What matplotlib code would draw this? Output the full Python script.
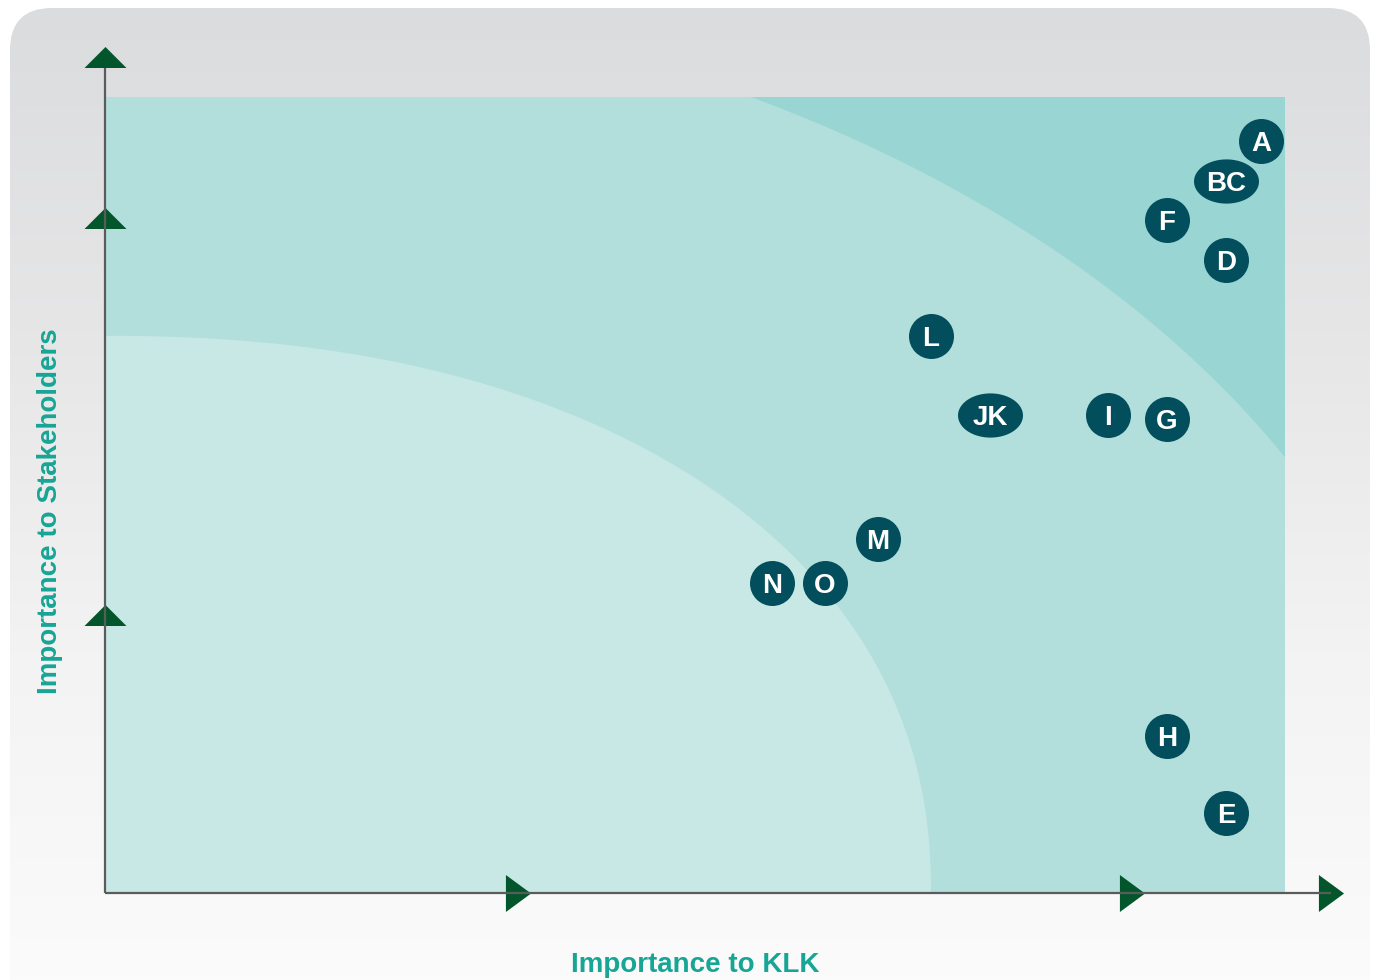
import numpy as np
import matplotlib
matplotlib.use("Agg")
import matplotlib.pyplot as plt
from matplotlib.patches import FancyBboxPatch, Rectangle, Polygon
from matplotlib.path import Path
from matplotlib.colors import LinearSegmentedColormap

# ---------------- data ----------------
labels = ["A", "BC", "F", "D", "L", "JK", "I", "G", "M", "N", "O", "H", "E"]
klk = [9.8, 9.5, 9.0, 9.5, 7.0, 7.5, 8.5, 9.0, 6.55, 5.65, 6.1, 9.0, 9.5]
stakeholders = [9.45, 8.95, 8.45, 7.95, 7.0, 6.0, 6.0, 5.95, 4.45, 3.9, 3.9, 1.97, 1.0]
y_arrow_levels = [10.5, 8.48, 3.49]
x_arrow_levels = [3.5, 8.7, 10.39]
x_title = "Importance to KLK"
y_title = "Importance to Stakeholders"

# zone boundaries (data units)
dark_radius = 11.4
light_radius = 7.0
light_power = 2.2

# ---------------- style ----------------
FONT = "Liberation Sans"
C_LIGHT = "#c8e8e6"
C_MED = "#b2dfdc"
C_DARK = "#98d5d3"
C_DOT = "#024e5c"
C_ARROW = "#03562b"
C_AXIS = "#5a5c5c"
C_TITLE = "#17a595"

W, H = 1378, 980
fig = plt.figure(figsize=(W / 100, H / 100), dpi=100)
fig.patch.set_facecolor("white")

# background rounded panel with vertical gradient
bg = fig.add_axes([0, 0, 1, 1])
bg.set_xlim(0, W)
bg.set_ylim(H, 0)
bg.axis("off")
panel = FancyBboxPatch((10, 8), 1360, 1040, boxstyle="round,pad=0,rounding_size=42",
                       facecolor="none", edgecolor="none")
bg.add_patch(panel)
cmap = LinearSegmentedColormap.from_list("g", ["#dbdcde", "#e6e6e7", "#f3f3f3", "#fbfbfb"])
grad = np.linspace(0, 1, 256).reshape(-1, 1)
im = bg.imshow(grad, cmap=cmap, extent=(10, 1370, H, 8), aspect="auto", origin="upper")
im.set_clip_path(panel)

# main axes
ax = fig.add_axes([105 / W, (H - 893) / H, 1180 / W, 796 / H])
ax.set_xlim(0, 10)
ax.set_ylim(0, 10)
ax.axis("off")

ax.add_patch(Rectangle((0, 0), 10, 10, facecolor=C_MED, edgecolor="none", zorder=1))
t = np.linspace(0, np.pi / 2, 300)
dark = np.column_stack([dark_radius * np.cos(t), dark_radius * np.sin(t)])
dark = np.vstack([dark, [[20, 20]], [[20, 0]]])
ax.add_patch(Polygon(np.vstack([[[dark_radius, 0]], dark[::-1]]), closed=True,
                     facecolor=C_DARK, edgecolor="none", zorder=2))
ct, st = np.cos(t), np.sin(t)
lx = light_radius * np.sign(ct) * np.abs(ct) ** (2 / light_power)
ly = light_radius * np.sign(st) * np.abs(st) ** (2 / light_power)
light = np.vstack([[[0, 0]], np.column_stack([lx, ly])])
ax.add_patch(Polygon(light, closed=True, facecolor=C_LIGHT, edgecolor="none", zorder=3))

# arrow triangles
up_tri = Path([(0, 0.5), (-1, -0.5), (1, -0.5), (0, 0.5)], closed=True)
right_tri = Path([(0.68, 0), (-0.68, 1), (-0.68, -1), (0.68, 0)], closed=True)
ax.scatter([0] * len(y_arrow_levels), y_arrow_levels, marker=up_tri, s=(42 * 0.72) ** 2,
           color=C_ARROW, linewidths=0, clip_on=False, zorder=5)
ax.scatter(x_arrow_levels, [0] * len(x_arrow_levels), marker=right_tri, s=(37 * 0.72) ** 2,
           color=C_ARROW, linewidths=0, clip_on=False, zorder=5)
ax.plot([0, 0], [0, 10.36], color=C_AXIS, lw=1.6, clip_on=False, zorder=6, solid_capstyle="butt")
ax.plot([0, x_arrow_levels[-1]], [0, 0], color=C_AXIS, lw=1.6, clip_on=False, zorder=6,
        solid_capstyle="butt")

# points
t2 = np.linspace(0, 2 * np.pi, 100)
wide_oval = Path(np.column_stack([np.cos(t2), 0.68 * np.sin(t2)]), closed=True)
for lab, x, y in zip(labels, klk, stakeholders):
    if len(lab) > 1:
        ax.scatter([x], [y], marker=wide_oval, s=(65 * 0.72) ** 2, color=C_DOT,
                   linewidths=0, zorder=7, clip_on=False)
    else:
        ax.scatter([x], [y], marker="o", s=(45 * 0.72) ** 2, color=C_DOT,
                   linewidths=0, zorder=7, clip_on=False)
    ax.annotate(lab, (x, y), xytext=(0, -7.2), textcoords="offset points",
                ha="center", va="baseline", color="white", fontsize=20,
                fontweight="bold", family=FONT, zorder=8)

# titles
fig.text(695 / W, 1 - 972 / H, x_title, ha="center", va="baseline", color=C_TITLE,
         fontsize=20, fontweight="bold", family=FONT)
fig.text(50 / W, 1 - 511 / H, y_title, ha="center", va="center", rotation=90,
         color=C_TITLE, fontsize=20, fontweight="bold", family=FONT)

fig.savefig("out.png", dpi=100)
